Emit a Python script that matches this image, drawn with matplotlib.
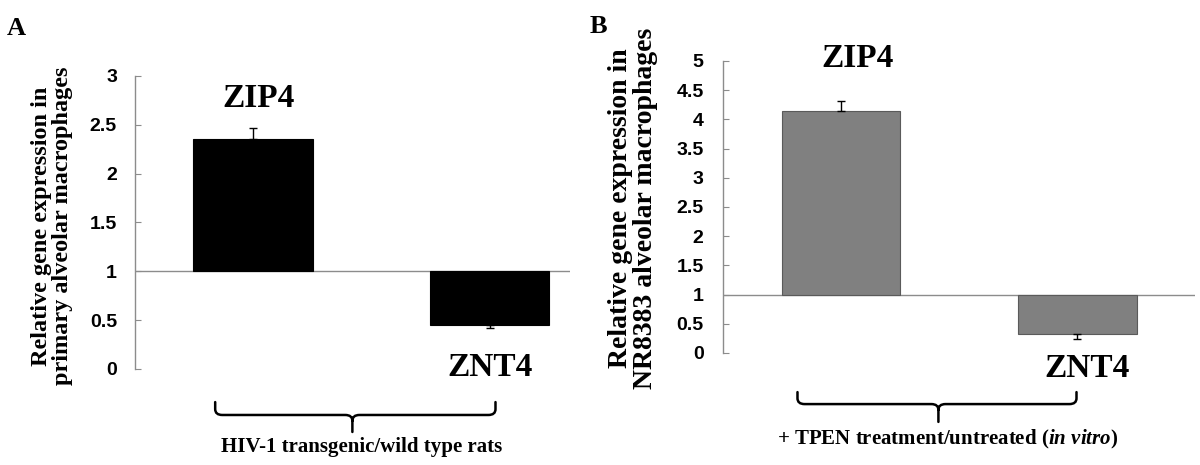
import numpy as np
import matplotlib
matplotlib.use("Agg")
from matplotlib import pyplot as plt
from matplotlib import transforms
from matplotlib.path import Path
from matplotlib.patches import PathPatch

plt.rcParams['mathtext.fontset'] = 'custom'
plt.rcParams['mathtext.rm'] = 'Liberation Serif:bold'
plt.rcParams['mathtext.it'] = 'Liberation Serif:italic:bold'

genes = ["ZIP4", "ZNT4"]

# panel A - HIV-1 transgenic / wild type rats
valsA = [2.35, 0.45]
errA = [0.12, 0.03]
ticksA = [0, 0.5, 1, 1.5, 2, 2.5, 3]
tickLabelsA = ["0", "0.5", "1", "1.5", "2", "2.5", "3"]

# panel B - TPEN treated / untreated NR8383
valsB = [4.15, 0.32]
errB = [0.16, 0.08]
ticksB = [0, 0.5, 1, 1.5, 2, 2.5, 3, 3.5, 4, 4.5, 5]
tickLabelsB = ["0", "0.5", "1", "1.5", "2", "2.5", "3", "3.5", "4", "4.5", "5"]

serif = "Liberation Serif"
sans = "Liberation Sans"
axisGray = "#8c8c8c"


def draw_panel(ax, vals, errs, ticks, tickLabels, color, edge, ylim, xlim, width, pad):
    x = np.arange(len(vals))
    heights = [v - 1 for v in vals]
    ax.bar(x, heights, bottom=1, width=width, color=color, edgecolor=edge, linewidth=0.8, zorder=2)
    # one-sided error bars: up for values above 1, down for values below 1
    lower = [e if v < 1 else 0 for v, e in zip(vals, errs)]
    upper = [e if v >= 1 else 0 for v, e in zip(vals, errs)]
    ax.errorbar(x, vals, yerr=[lower, upper], fmt="none", ecolor="black", elinewidth=1.0, capsize=3, capthick=1.0, zorder=3)
    ax.axhline(1, color=axisGray, linewidth=1.0, zorder=1)
    ax.set_xlim(xlim)
    ax.set_ylim(ylim)
    for s in ["top", "right", "bottom"]:
        ax.spines[s].set_visible(False)
    ax.spines["left"].set_color(axisGray)
    ax.spines["left"].set_linewidth(1.0)
    ax.set_xticks([])
    ax.set_yticks(ticks)
    ax.set_yticklabels(tickLabels, fontfamily=sans, fontweight="bold", fontsize=14)
    ax.tick_params(axis="y", direction="in", length=4, color=axisGray, pad=pad)


def draw_brace(ax, left, right, tip, ytop, ymid, ybot):
    # bracket with slightly rounded corners, x in data units, y in axes units
    trans = transforms.blended_transform_factory(ax.transData, ax.transAxes)
    rx, ry = 0.03, 0.02
    verts = [(left, ytop), (left, ymid + ry), (left, ymid), (left + rx, ymid),
             (tip - rx, ymid), (tip, ymid), (tip, ymid - ry), (tip, ybot),
             (tip, ymid - ry), (tip, ymid), (tip + rx, ymid),
             (right - rx, ymid), (right, ymid), (right, ymid + ry), (right, ytop)]
    codes = [Path.MOVETO, Path.LINETO, Path.CURVE3, Path.CURVE3,
             Path.LINETO, Path.CURVE3, Path.CURVE3, Path.LINETO,
             Path.MOVETO, Path.CURVE3, Path.CURVE3,
             Path.LINETO, Path.CURVE3, Path.CURVE3, Path.LINETO]
    patch = PathPatch(Path(verts, codes), facecolor="none", edgecolor="black", linewidth=1.8,
                      transform=trans, clip_on=False, capstyle="round")
    ax.add_patch(patch)


fig = plt.figure(figsize=(12, 4.65), dpi=100)

axA = fig.add_axes([0.1125, 0.2065, 0.3625, 0.6301])
draw_panel(axA, valsA, errA, ticksA, tickLabelsA, "black", "black", (0, 3), (-0.499, 1.340), 0.505, 13)
axA.text(0.025, 2.687, genes[0], fontfamily=serif, fontweight="bold", fontsize=24, ha="center", va="baseline")
axA.text(1.0, -0.072, genes[1], fontfamily=serif, fontweight="bold", fontsize=24, ha="center", va="baseline", clip_on=False)
draw_brace(axA, -0.16, 1.025, 0.42, -0.113, -0.157, -0.215)
axA.text(0.46, -0.282, "HIV-1 transgenic/wild type rats", transform=transforms.blended_transform_factory(axA.transData, axA.transAxes),
         fontfamily=serif, fontweight="bold", fontsize=15, ha="center", va="baseline")

axB = fig.add_axes([0.6025, 0.2409, 0.3933, 0.628])
draw_panel(axB, valsB, errB, ticksB, tickLabelsB, "#808080", "#5a5a5a", (0, 5), (-0.499, 1.497), 0.5, 14)
axB.text(0.068, 4.894, genes[0], fontfamily=serif, fontweight="bold", fontsize=24, ha="center", va="baseline")
axB.text(1.04, -0.405, genes[1], fontfamily=serif, fontweight="bold", fontsize=24, ha="center", va="baseline", clip_on=False)
draw_brace(axB, -0.184, 0.996, 0.412, -0.134, -0.175, -0.236)
axB.text(0.45, -0.312, r"+ TPEN treatment/untreated ($\mathit{in\ vitro}$)",
         transform=transforms.blended_transform_factory(axB.transData, axB.transAxes),
         fontfamily=serif, fontweight="bold", fontsize=15, ha="center", va="baseline")

fig.text(0.0435, 0.514, "Relative gene expression in\nprimary alveolar macrophages", rotation=90,
         fontfamily=serif, fontweight="bold", fontsize=17.5, ha="center", va="center", linespacing=1.0)
fig.text(0.5275, 0.552, "Relative gene expression in\nNR8383 alveolar macrophages", rotation=90,
         fontfamily=serif, fontweight="bold", fontsize=20, ha="center", va="center", linespacing=1.0)

fig.text(0.006, 0.925, "A", fontfamily=serif, fontweight="bold", fontsize=19, ha="left", va="baseline")
fig.text(0.4917, 0.929, "B", fontfamily=serif, fontweight="bold", fontsize=19, ha="left", va="baseline")

fig.savefig("out.png", dpi=100)
